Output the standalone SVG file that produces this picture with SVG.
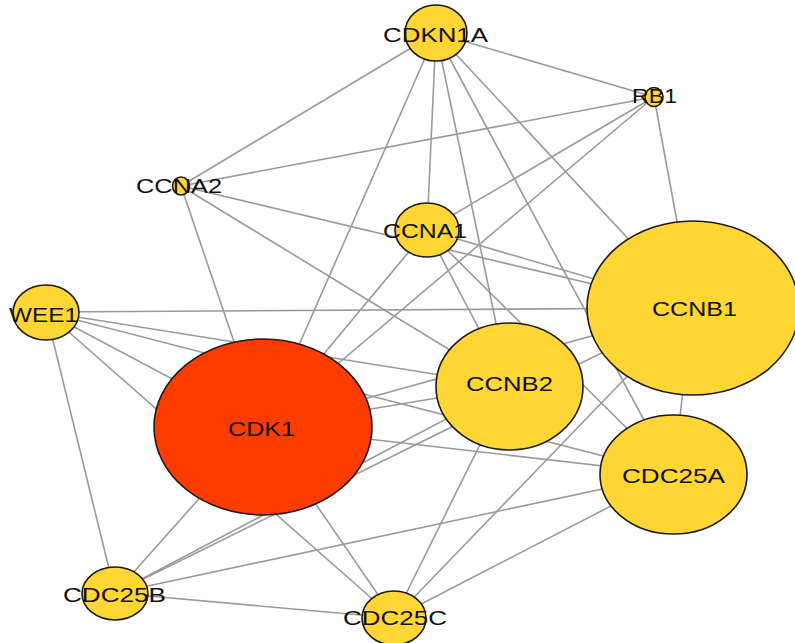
<svg xmlns="http://www.w3.org/2000/svg" width="795" height="643" viewBox="0 0 795 643">
<style>
.e{stroke:#9a9a9a;stroke-width:1.6;fill:none}
.n{fill:#FFD633;stroke:#1a1a1a;stroke-width:1.6}
.k{fill:#FF3C00;stroke:#1a1a1a;stroke-width:1.6}
.t{font-family:"Liberation Sans",Arial,sans-serif;font-size:21px;fill:#111;text-anchor:middle}
</style>
<rect width="795" height="643" fill="#fff"/>
<g id="edges">
<line class="e" x1="436" y1="33" x2="181" y2="186"/>
<line class="e" x1="436" y1="33" x2="654" y2="97"/>
<line class="e" x1="436" y1="33" x2="427" y2="230"/>
<line class="e" x1="436" y1="33" x2="263" y2="427"/>
<line class="e" x1="436" y1="33" x2="509" y2="386"/>
<line class="e" x1="436" y1="33" x2="693" y2="308"/>
<line class="e" x1="436" y1="33" x2="673" y2="474"/>
<line class="e" x1="181" y1="186" x2="654" y2="97"/>
<line class="e" x1="181" y1="186" x2="263" y2="427"/>
<line class="e" x1="181" y1="186" x2="509" y2="386"/>
<line class="e" x1="181" y1="186" x2="693" y2="308"/>
<line class="e" x1="654" y1="97" x2="427" y2="230"/>
<line class="e" x1="654" y1="97" x2="263" y2="427"/>
<line class="e" x1="654" y1="97" x2="693" y2="308"/>
<line class="e" x1="427" y1="230" x2="693" y2="308"/>
<line class="e" x1="427" y1="230" x2="509" y2="386"/>
<line class="e" x1="427" y1="230" x2="673" y2="474"/>
<line class="e" x1="427" y1="230" x2="263" y2="427"/>
<line class="e" x1="46" y1="312" x2="693" y2="308"/>
<line class="e" x1="46" y1="312" x2="509" y2="386"/>
<line class="e" x1="46" y1="312" x2="673" y2="474"/>
<line class="e" x1="46" y1="312" x2="263" y2="427"/>
<line class="e" x1="46" y1="312" x2="394" y2="618"/>
<line class="e" x1="46" y1="312" x2="115" y2="593"/>
<line class="e" x1="263" y1="427" x2="509" y2="386"/>
<line class="e" x1="263" y1="427" x2="693" y2="308"/>
<line class="e" x1="263" y1="427" x2="673" y2="474"/>
<line class="e" x1="263" y1="427" x2="115" y2="593"/>
<line class="e" x1="263" y1="427" x2="394" y2="618"/>
<line class="e" x1="509" y1="386" x2="394" y2="618"/>
<line class="e" x1="509" y1="386" x2="115" y2="593"/>
<line class="e" x1="693" y1="308" x2="673" y2="474"/>
<line class="e" x1="693" y1="308" x2="394" y2="618"/>
<line class="e" x1="693" y1="308" x2="115" y2="593"/>
<line class="e" x1="673" y1="474" x2="115" y2="593"/>
<line class="e" x1="673" y1="474" x2="394" y2="618"/>
<line class="e" x1="115" y1="593" x2="394" y2="618"/>
</g>
<g id="CDKN1A"><ellipse class="n" cx="436" cy="33" rx="31" ry="28"/><text class="t" x="435.5" y="42" textLength="105" lengthAdjust="spacingAndGlyphs">CDKN1A</text></g>
<g id="RB1"><ellipse class="n" cx="654" cy="97" rx="9" ry="9.5"/><text class="t" x="654.5" y="103" textLength="45" lengthAdjust="spacingAndGlyphs">RB1</text></g>
<g id="CCNA2"><ellipse class="n" cx="181" cy="186" rx="8.5" ry="9"/><text class="t" x="179" y="193" textLength="86" lengthAdjust="spacingAndGlyphs">CCNA2</text></g>
<g id="CCNA1"><ellipse class="n" cx="427" cy="230" rx="32" ry="27"/><text class="t" x="425" y="238" textLength="84" lengthAdjust="spacingAndGlyphs">CCNA1</text></g>
<g id="WEE1"><ellipse class="n" cx="46" cy="312.5" rx="33" ry="27.5"/><text class="t" x="43.5" y="322" textLength="69" lengthAdjust="spacingAndGlyphs">WEE1</text></g>
<g id="CCNB1"><ellipse class="n" cx="693" cy="308" rx="106" ry="87"/><text class="t" x="694.5" y="316" textLength="85" lengthAdjust="spacingAndGlyphs">CCNB1</text></g>
<g id="CCNB2"><ellipse class="n" cx="509.5" cy="386.5" rx="73.5" ry="63.5"/><text class="t" x="509.5" y="391" textLength="87" lengthAdjust="spacingAndGlyphs">CCNB2</text></g>
<g id="CDK1"><ellipse class="k" cx="263" cy="427" rx="109" ry="88"/><text class="t" x="261.5" y="436" textLength="67" lengthAdjust="spacingAndGlyphs">CDK1</text></g>
<g id="CDC25A"><ellipse class="n" cx="673.5" cy="474.5" rx="73.5" ry="59.5"/><text class="t" x="673.5" y="483" textLength="103" lengthAdjust="spacingAndGlyphs">CDC25A</text></g>
<g id="CDC25B"><ellipse class="n" cx="115" cy="593.5" rx="33" ry="26.5"/><text class="t" x="114.5" y="602" textLength="103" lengthAdjust="spacingAndGlyphs">CDC25B</text></g>
<g id="CDC25C"><ellipse class="n" cx="394" cy="618" rx="32" ry="27"/><text class="t" x="395" y="625" textLength="104" lengthAdjust="spacingAndGlyphs">CDC25C</text></g>
</svg>
